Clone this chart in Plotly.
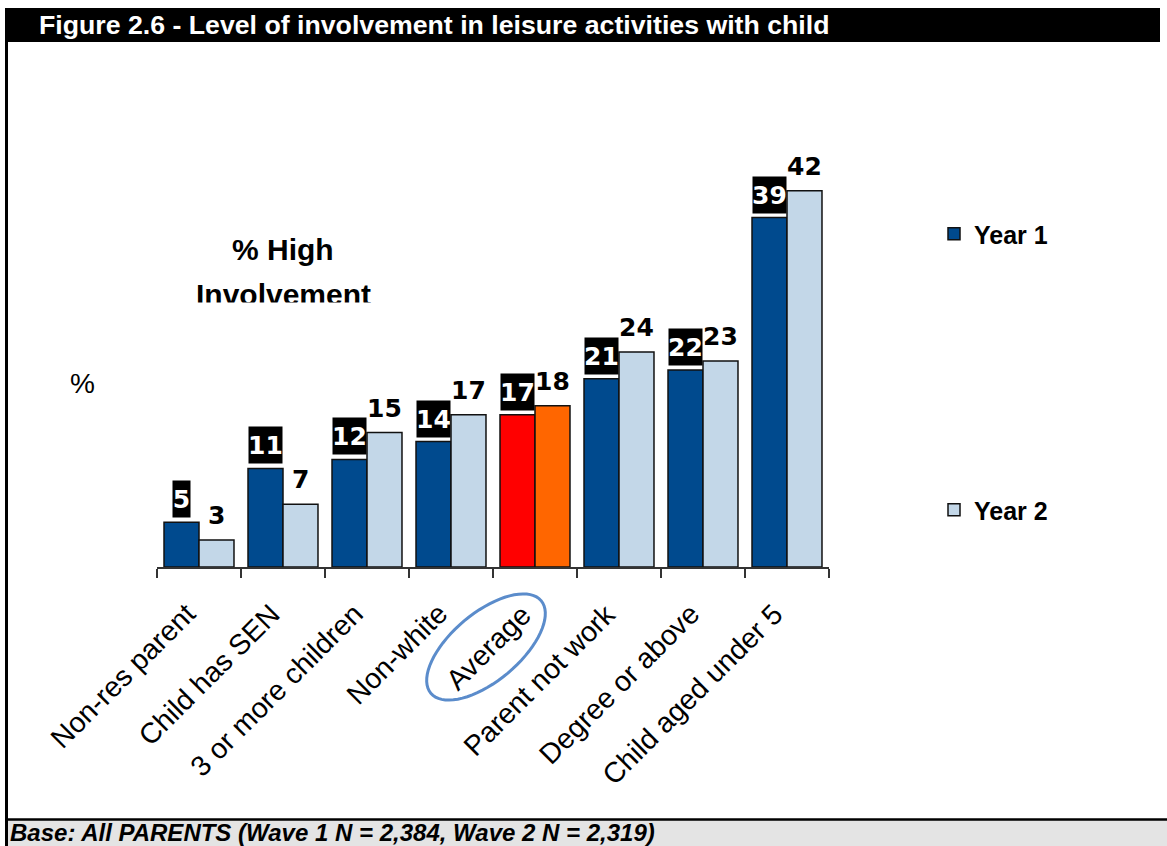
import math
import plotly.graph_objects as go

categories = ["Non-res parent", "Child has SEN", "3 or more children", "Non-white",
              "Average", "Parent not work", "Degree or above", "Child aged under 5"]
year1 = [5, 11, 12, 14, 17, 21, 22, 39]
year2 = [3, 7, 15, 17, 18, 24, 23, 42]
series_names = ["Year 1", "Year 2"]

title_text = "Figure 2.6 - Level of involvement in leisure activities with child"
footer_text = "Base: All PARENTS (Wave 1 N = 2,384, Wave 2 N = 2,319)"

C_Y1 = "#004A8E"
C_Y2 = "#C3D7E8"
C_AVG1 = "#FF0000"
C_AVG2 = "#FF6600"

W, H = 1167, 846
L, R_EDGE = 157, 829
TOP, BASE = 119, 567
PW, PH = R_EDGE - L, BASE - TOP
YMAX = 50


def px_x(p):
    return (p - L) / PW


def px_y(p):
    return (BASE - p) / PH


colors1 = [C_AVG1 if c == "Average" else C_Y1 for c in categories]
colors2 = [C_AVG2 if c == "Average" else C_Y2 for c in categories]

fig = go.Figure()
fig.add_trace(go.Bar(x=categories, y=year1, name="<b>" + series_names[0] + "</b>",
                     marker=dict(color=colors1, line=dict(color="#111111", width=1.5)),
                     legend="legend"))
fig.add_trace(go.Bar(x=categories, y=year2, name="<b>" + series_names[1] + "</b>",
                     marker=dict(color=colors2, line=dict(color="#111111", width=1.5)),
                     legend="legend2"))

ann = []
for c, v in zip(categories, year1):
    ann.append(dict(x=c, y=v, xref="x", yref="y", text="<b>%d</b>" % v, showarrow=False,
                    xshift=-17.5, yshift=4, yanchor="bottom", bgcolor="black",
                    width=16 * len(str(v)) + 1, height=36, borderpad=0,
                    font=dict(family="DejaVu Sans", size=25, color="white")))
for c, v in zip(categories, year2):
    ann.append(dict(x=c, y=v, xref="x", yref="y", text="<b>%d</b>" % v, showarrow=False,
                    xshift=17.5, yshift=8, yanchor="bottom",
                    font=dict(family="DejaVu Sans", size=25, color="black")))

# category labels, rotated, attached to the category axis positions
for c in categories:
    ann.append(dict(x=c, y=0, xref="x", yref="y", text=c, showarrow=False,
                    textangle=-45, xanchor="right", yanchor="top", xshift=5, yshift=-28,
                    font=dict(family="Liberation Sans", size=28.5, color="black")))

# Title text
ann.append(dict(x=px_x(37), y=px_y(25), xref="paper", yref="paper", xanchor="left",
                yanchor="middle", showarrow=False, text="<b>" + title_text + "</b>",
                font=dict(family="Liberation Sans", size=26.7, color="white")))
# Footer text
ann.append(dict(x=px_x(8), y=px_y(832), xref="paper", yref="paper", xanchor="left",
                yanchor="middle", showarrow=False, text="<b><i>" + footer_text + "</i></b>",
                font=dict(family="Liberation Sans", size=24, color="black")))
# % label
ann.append(dict(x=px_x(82), y=px_y(383), xref="paper", yref="paper", xanchor="center",
                yanchor="middle", showarrow=False, text="%",
                font=dict(family="Liberation Sans", size=28, color="black")))
# % High Involvement
ann.append(dict(x=px_x(283), y=px_y(249), xref="paper", yref="paper", xanchor="center",
                yanchor="middle", showarrow=False, text="<b>% High</b>",
                font=dict(family="Liberation Sans", size=30, color="black")))
ann.append(dict(x=px_x(283), y=px_y(294), xref="paper", yref="paper", xanchor="center",
                yanchor="middle", showarrow=False, text="<b>Involvement</b>",
                font=dict(family="Liberation Sans", size=30, color="black")))
# white cover to mimic clipped text
ann.append(dict(x=px_x(283), y=px_y(302), xref="paper", yref="paper", xanchor="center",
                yanchor="top", showarrow=False, text=" ", bgcolor="white",
                width=220, height=14, borderpad=0, font=dict(size=10)))

shapes = []
# title bar
shapes.append(dict(type="rect", xref="paper", yref="paper", x0=px_x(5), x1=px_x(1160),
                   y0=px_y(8), y1=px_y(42), fillcolor="black", line=dict(width=0), layer="below"))
# footer grey band
shapes.append(dict(type="rect", xref="paper", yref="paper", x0=px_x(5), x1=px_x(1167),
                   y0=px_y(820), y1=px_y(846), fillcolor="#E4E4E4", line=dict(width=0), layer="below"))
# footer top line
shapes.append(dict(type="line", xref="paper", yref="paper", x0=px_x(5), x1=px_x(1167),
                   y0=px_y(819.5), y1=px_y(819.5), line=dict(color="black", width=2.5)))
# left frame line
shapes.append(dict(type="line", xref="paper", yref="paper", x0=px_x(6.5), x1=px_x(6.5),
                   y0=px_y(8), y1=px_y(846), line=dict(color="black", width=3)))

# ellipse around "Average"
cx, cy, a, b, th = 486, 647, 72, 34, math.radians(40)
pts = []
for k in range(73):
    t = 2 * math.pi * k / 72
    ex = cx + a * math.cos(t) * math.cos(th) - b * math.sin(t) * math.sin(th)
    ey = cy - (a * math.cos(t) * math.sin(th) + b * math.sin(t) * math.cos(th))
    pts.append((px_x(ex), px_y(ey)))
path = "M " + " L ".join("%.5f,%.5f" % p for p in pts) + " Z"
shapes.append(dict(type="path", xref="paper", yref="paper", path=path,
                   line=dict(color="#5B8CCB", width=3)))

fig.update_layout(
    width=W, height=H,
    margin=dict(l=L, r=W - R_EDGE, t=TOP, b=H - BASE, autoexpand=False),
    paper_bgcolor="white", plot_bgcolor="white",
    barmode="group", bargap=0.167, bargroupgap=0,
    showlegend=True,
    legend=dict(x=px_x(934), y=px_y(234), xanchor="left", yanchor="middle",
                font=dict(family="Liberation Sans", size=25, color="black"),
                bgcolor="rgba(0,0,0,0)"),
    legend2=dict(x=px_x(934), y=px_y(510), xanchor="left", yanchor="middle",
                 font=dict(family="Liberation Sans", size=25, color="black"),
                 bgcolor="rgba(0,0,0,0)"),
    xaxis=dict(type="category", range=[-0.5, len(categories) - 0.5], autorange=False,
               showline=True, linecolor="#333333", linewidth=1.5,
               ticks="outside", tickson="boundaries", ticklen=9, tickcolor="#333333",
               tickwidth=1.5, showticklabels=False, showgrid=False),
    yaxis=dict(range=[0, YMAX], autorange=False, visible=False, showgrid=False, zeroline=False),
    annotations=ann, shapes=shapes,
)

fig.write_html("out.html", config={"displayModeBar": False},
               post_script="document.body.style.margin='0';")
